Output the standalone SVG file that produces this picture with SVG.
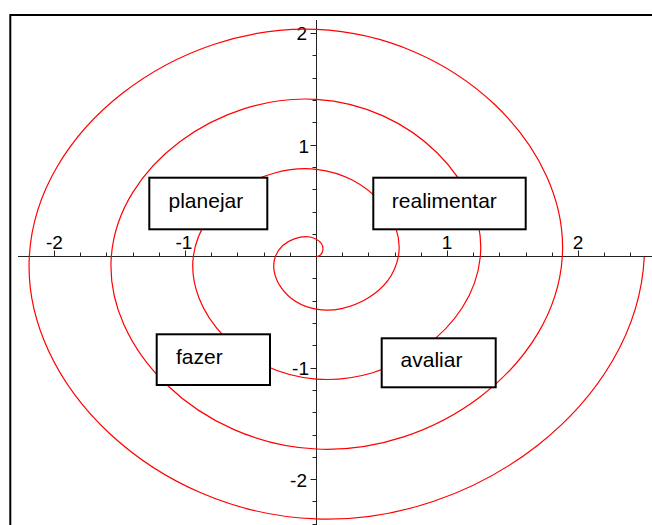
<svg xmlns="http://www.w3.org/2000/svg" width="652" height="525" viewBox="0 0 652 525">
<style>
.frame{fill:none;stroke:#000;stroke-width:2}
.axis{fill:none;stroke:#222;stroke-width:1}
.spiral{fill:none;stroke:#ff0000;stroke-width:1.2}
.box rect{fill:#fff;stroke:#000;stroke-width:2}
.box text{font-family:"Liberation Sans",Arial,sans-serif;font-size:21px;fill:#000}
.tl{font-family:"Liberation Sans",Arial,sans-serif;font-size:19px;fill:#000}
</style>
<rect width="652" height="525" fill="#fff"/>
<path class="frame" d="M10.3 525 V15 H652"/>
<g id="axes">
<path class="axis" d="M18 256.5 H652 M316.5 20 V525"/>
<path class="axis" d="M54.5 256.5v-6 M80.5 256.5v-4 M106.5 256.5v-4 M133.5 256.5v-4 M159.5 256.5v-4 M185.5 256.5v-6 M211.5 256.5v-4 M237.5 256.5v-4 M264.5 256.5v-4 M290.5 256.5v-4 M342.5 256.5v-4 M368.5 256.5v-4 M395.5 256.5v-4 M421.5 256.5v-4 M447.5 256.5v-6 M473.5 256.5v-4 M499.5 256.5v-4 M526.5 256.5v-4 M552.5 256.5v-4 M578.5 256.5v-6 M604.5 256.5v-4 M630.5 256.5v-4"/>
<path class="axis" d="M316.5 33.5h-6 M316.5 55.5h-4 M316.5 78.5h-4 M316.5 100.5h-4 M316.5 122.5h-4 M316.5 145.5h-6 M316.5 167.5h-4 M316.5 189.5h-4 M316.5 212.5h-4 M316.5 234.5h-4 M316.5 278.5h-4 M316.5 301.5h-4 M316.5 323.5h-4 M316.5 345.5h-4 M316.5 368.5h-6 M316.5 390.5h-4 M316.5 412.5h-4 M316.5 435.5h-4 M316.5 457.5h-4 M316.5 479.5h-6 M316.5 501.5h-4 M316.5 524.5h-4"/>
<text class="tl" x="54.5" y="249" text-anchor="middle">-2</text>
<text class="tl" x="184" y="249" text-anchor="middle">-1</text>
<text class="tl" x="447" y="249" text-anchor="middle">1</text>
<text class="tl" x="578" y="249" text-anchor="middle">2</text>
<text class="tl" x="307" y="40" text-anchor="end">2</text>
<text class="tl" x="309" y="153" text-anchor="end">1</text>
<text class="tl" x="309" y="375" text-anchor="end">-1</text>
<text class="tl" x="307" y="487" text-anchor="end">-2</text>
</g>
<g id="connectors">
<path class="spiral" d="M316.3 256.7 C323.13 256.7 327.03 245.05 316.3 239.22 C305.57 233.39 282.13 238.39 275.3 256.7 C268.47 275.01 284.1 303.32 316.3 309.15 C348.5 314.98 391.47 293.32 398.3 256.7 C405.13 220.08 369.97 175.12 316.3 169.29 C262.63 163.46 200.14 201.78 193.31 256.7 C186.48 311.62 241.17 373.25 316.3 379.08 C391.43 384.91 473.46 329.93 480.29 256.7 C487.12 183.47 412.9 105.18 316.3 99.35 C219.7 93.52 118.14 165.16 111.31 256.7 C104.48 348.24 198.24 443.18 316.3 449.01 C434.36 454.84 555.46 366.55 562.29 256.7 C569.12 146.85 455.83 35.25 316.3 29.42 C176.77 23.59 36.14 128.54 29.31 256.7 C22.48 384.86 155.3 513.12 316.3 518.95 C477.3 524.78 637.45 403.16 644.28 256.7"/>
</g>
<g id="planejar" class="box">
<rect x="149.3" y="177.7" width="118" height="51.6"/>
<text x="168.5" y="207.5">planejar</text>
</g>
<g id="realimentar" class="box">
<rect x="373.3" y="177.7" width="152.4" height="51.6"/>
<text x="391.8" y="207.5">realimentar</text>
</g>
<g id="fazer" class="box">
<rect x="156.7" y="334.3" width="113.3" height="50.7"/>
<text x="176" y="363.5">fazer</text>
</g>
<g id="avaliar" class="box">
<rect x="381.7" y="338.3" width="114" height="49"/>
<text x="400.6" y="367">avaliar</text>
</g>
</svg>
